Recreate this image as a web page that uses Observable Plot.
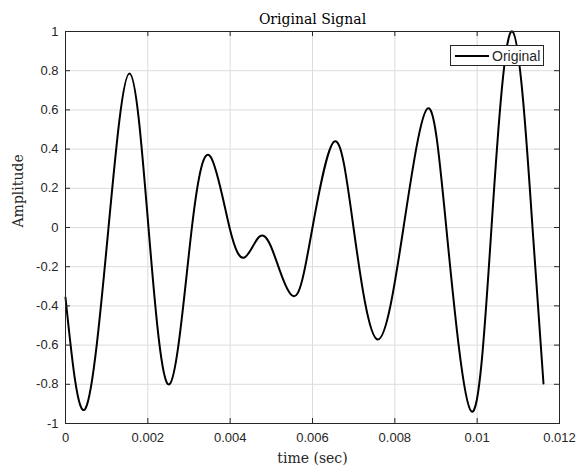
<!DOCTYPE html>
<html>
<head>
<meta charset="utf-8">
<script src="https://cdn.jsdelivr.net/npm/d3@7"></script>
<script src="https://cdn.jsdelivr.net/npm/@observablehq/plot@0.6"></script>
<style>
  html, body { margin: 0; padding: 0; background: white; }
  #wrap { position: relative; width: 579px; height: 470px; }
  #legend {
    position: absolute; left: 450px; top: 45px; width: 92px; height: 19px;
    border: 1px solid #262626; background: white;
    font-family: "Liberation Sans", Arial, sans-serif; font-size: 14px; color: #262626;
    display: flex; align-items: center;
  }
  #legend svg { display: block; margin-left: 4px; margin-right: 3px; }
</style>
</head>
<body>
<div id="wrap">
  <div id="legend"><svg width="34" height="6"><line x1="0" y1="3" x2="34" y2="3" stroke="black" stroke-width="2"/></svg><span>Original</span></div>
</div>
<script>
const time = [0, 0.000486, 0.001045, 0.001555, 0.002016, 0.002526, 0.003070, 0.003522, 0.003984,
  0.004348, 0.004688, 0.004980, 0.005296, 0.005636, 0.006000, 0.006534, 0.006996, 0.007579,
  0.008211, 0.008794, 0.009250, 0.009862, 0.010348, 0.010858, 0.011344, 0.011611];
const amplitude = [-0.357, -0.923, 0.0, 0.786, 0.0, -0.80, 0.0, 0.362, 0.0,
  -0.153, -0.051, -0.092, -0.27, -0.337, 0.0, 0.439, 0.0, -0.571,
  0.0, 0.607, 0.0, -0.939, 0.0, 1.0, 0.0, -0.796];

const xTicks = [0, 0.002, 0.004, 0.006, 0.008, 0.01, 0.012];
const xTickLabels = ["0", "0.002", "0.004", "0.006", "0.008", "0.01", "0.012"];
const yTicks = [-1, -0.8, -0.6, -0.4, -0.2, 0, 0.2, 0.4, 0.6, 0.8, 1];
const yTickLabels = ["-1", "-0.8", "-0.6", "-0.4", "-0.2", "0", "0.2", "0.4", "0.6", "0.8", "1"];

const titleText = "Original Signal";
const xLabel = "time (sec)";
const yLabel = "Amplitude";

const data = time.map((t, i) => ({t, a: amplitude[i]}));

const W = 579, H = 470, mL = 65, mR = 20, mT = 31, mB = 47;
const innerW = W - mL - mR, innerH = H - mT - mB;
const ink = "#262626";
const serif = "'DejaVu Serif', 'Liberation Serif', serif";

const chart = Plot.plot({
  width: W, height: H,
  marginLeft: mL, marginRight: mR, marginTop: mT, marginBottom: mB,
  style: {fontFamily: "'Liberation Sans', Arial, sans-serif", fontSize: "13px", color: ink, background: "white", overflow: "visible"},
  x: {domain: [0, 0.012]},
  y: {domain: [-1, 1]},
  marks: [
    Plot.gridX(xTicks, {stroke: "#dcdcdc", strokeOpacity: 1}),
    Plot.gridY(yTicks, {stroke: "#dcdcdc", strokeOpacity: 1}),
    Plot.line(data, {x: "t", y: "a", curve: "natural", stroke: "black", strokeWidth: 2}),
    Plot.ruleX(xTicks, {x: d => d, insetTop: innerH - 5, stroke: ink}),
    Plot.ruleX(xTicks, {x: d => d, insetBottom: innerH - 5, stroke: ink}),
    Plot.ruleY(yTicks, {y: d => d, insetRight: innerW - 5, stroke: ink}),
    Plot.ruleY(yTicks, {y: d => d, insetLeft: innerW - 5, stroke: ink}),
    Plot.frame({stroke: ink}),
    Plot.axisX(xTicks, {tickSize: 0, tickPadding: 9, label: null, fontSize: 13,
      tickFormat: d => xTickLabels[xTicks.indexOf(d)]}),
    Plot.axisY(yTicks, {tickSize: 0, tickPadding: 7, label: null, fontSize: 13,
      tickFormat: d => yTickLabels[yTicks.indexOf(d)]}),
    Plot.text([titleText], {frameAnchor: "top", dy: -17, fontFamily: serif, fontSize: 14, fill: "black"}),
    Plot.text([xLabel], {frameAnchor: "bottom", dy: 39, fontFamily: serif, fontSize: 14, fill: ink}),
    Plot.text([yLabel], {frameAnchor: "left", dx: -47, rotate: -90, fontFamily: serif, fontSize: 14, fill: ink})
  ]
});
document.getElementById("wrap").prepend(chart);
</script>
</body>
</html>
